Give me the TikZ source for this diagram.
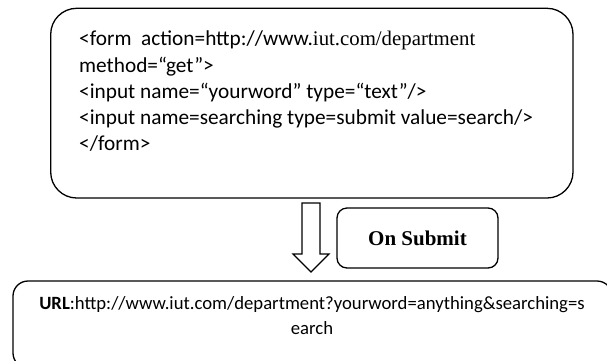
\documentclass[tikz,border=0pt]{standalone}
\usepackage{fontspec}
\setmainfont{Carlito}
\newfontfamily\serifbold{Liberation Serif}
\newfontfamily\urlserif{Liberation Serif}
\usetikzlibrary{calc}
\begin{document}
\begin{tikzpicture}[x=1pt,y=-1pt,
  panel/.style={draw=black, line width=1.3pt, rounded corners=#1},
  codetext/.style={inner sep=0pt, align=left, font=\fontsize{21.3}{26.2}\selectfont},
  urltext/.style={inner sep=0pt, align=center, font=\fontsize{18.7}{25}\selectfont},
  labeltext/.style={inner sep=0pt, font=\serifbold\bfseries\fontsize{21}{24}\selectfont},
  blockarrow/.style={draw=black, line width=1.1pt, fill=white, line join=miter}
]
\useasboundingbox (0,0) rectangle (607,360);

% form source panel
\draw[panel=26pt] (50.7,8.3) rectangle (573,198);
\node[codetext, anchor=north west] (form) at (79,31)
  {<form~~action=http://www.{\urlserif\fontsize{20.8}{26.2}\selectfont iut.com/department}\\
   method=“get”>\\
   <input name=“yourword” type=“text”/>\\
   <input name=searching type=submit value=search/>\\
   </form>};

% submit label panel
\draw[panel=10pt] (337,208) rectangle (498,268);
\node[labeltext] (submit) at (417.5,238) {On Submit};

% resulting request panel (runs past the page edge)
\draw[panel=15pt] (13,281) rectangle (612,368);
\node[urltext, anchor=north] (url) at (312,296.5)
  {\textbf{URL}:http://www.iut.com/department?yourword=anything\&searching=s\\earch};

% hollow block arrow between the panels
\coordinate (shafttop) at (311,203);
\coordinate (tip) at (311,272);
\draw[blockarrow] ($(shafttop)+(-9,0)$) -- ($(shafttop)+(9,0)$)
  -- ($(tip)+(9,-18)$) -- ($(tip)+(18,-18)$) -- (tip)
  -- ($(tip)+(-18,-18)$) -- ($(tip)+(-9,-18)$) -- cycle;
\end{tikzpicture}
\end{document}
